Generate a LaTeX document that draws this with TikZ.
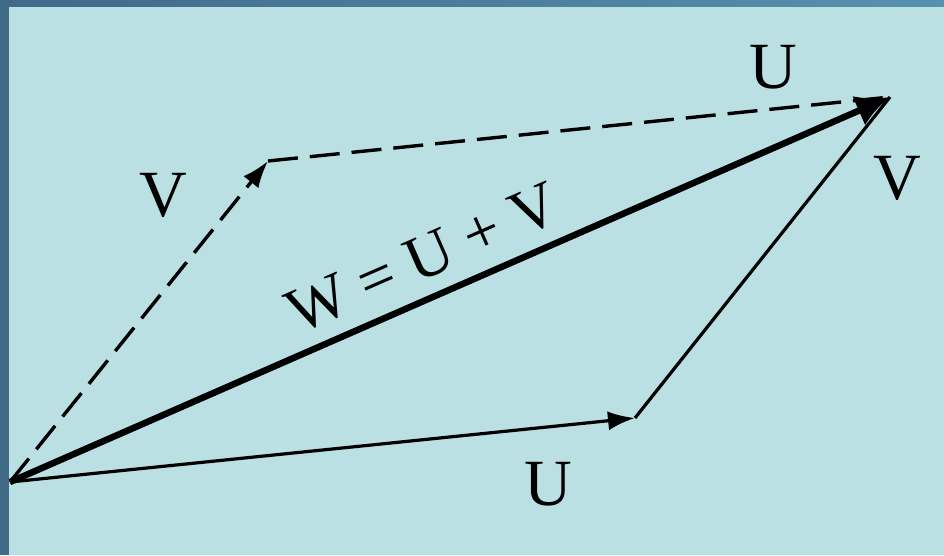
\documentclass[tikz,border=0pt]{standalone}
\usepackage{fontspec}
\setmainfont{Liberation Serif}
\usetikzlibrary{arrows.meta}
\definecolor{bgl}{HTML}{BAE0E3}
\definecolor{frameA}{HTML}{416A87}
\definecolor{frameB}{HTML}{5592B0}
\tikzset{
  thinvec/.style={line width=3.2pt, -{Latex[length=27pt,width=19pt]}},
  thickvec/.style={line width=6.5pt, -{Latex[length=34pt,width=32pt]}},
  dashvec/.style={line width=3.4pt, dash pattern=on 30pt off 12pt},
  lbl/.style={font=\fontsize{66}{66}\selectfont, inner sep=0pt},
}
\begin{document}
\begin{tikzpicture}[x=1pt,y=-1pt]
\useasboundingbox (0,0) rectangle (944,555);
\fill[frameA] (0,0) rectangle (944,555);
\shade[left color=frameA, right color=frameB] (0,0) rectangle (944,7);
\fill[bgl] (9,7) rectangle (944,555);
\coordinate (O) at (10,482);
\coordinate (A) at (635,418);
\coordinate (B) at (268,161);
\coordinate (C) at (890,97);
\draw[dashvec, -{Latex[length=27pt,width=19pt]}] (O) -- (B);
\draw[dashvec] (B) -- (C);
\draw[thinvec] (O) -- (A);
\draw[line width=3.2pt] (A) -- (C);
\draw[thickvec] (O) -- (C);
\node[lbl] (lu1) at (773,67) {U};
\node[lbl] (lv1) at (897,178) {V};
\node[lbl] (lv2) at (163,195) {V};
\node[lbl] (lu2) at (548,484) {U};
\node[lbl, font=\fontsize{64}{64}\selectfont, rotate=23.6] (lw) at (423,258) {W = U + V};
\end{tikzpicture}
\end{document}
